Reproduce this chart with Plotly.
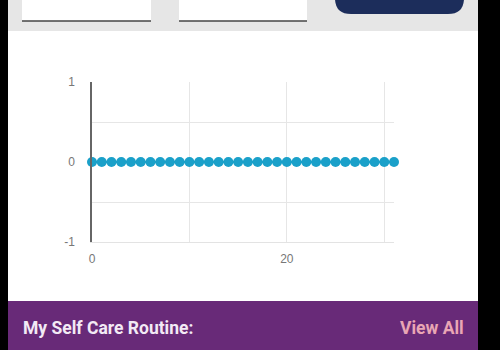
import plotly.graph_objects as go

days = list(range(0, 32))
values = [0] * 32
x_tickvals = [0, 20]
x_ticktext = ["0", "20"]
y_tickvals = [-1, 0, 1]
y_ticktext = ["-1", "0", "1"]
footer_title = "My Self Care Routine:"
footer_link = "View All"

W, H = 500, 350
L, R, T, B = 92, 394, 82, 242

def px(x):
    return (x - L) / (R - L)

def py(y):
    return (B - y) / (B - T)

def rect(x0, y0, x1, y1, color, line=None):
    return dict(type="rect", xref="paper", yref="paper",
                x0=px(x0), x1=px(x1), y0=py(y1), y1=py(y0),
                fillcolor=color, line=dict(width=0) if line is None else line,
                layer="below")

fig = go.Figure()
fig.add_trace(go.Scatter(
    x=days, y=values, mode="lines+markers",
    line=dict(color="#1aa0c9", width=2),
    marker=dict(color="#1aa0c9", size=10),
    hoverinfo="skip", showlegend=False, cliponaxis=False,
))

shapes = [
    rect(8, 0, 478, 31, "#e6e6e6"),
    rect(22, -5, 151, 21, "#ffffff"),
    rect(179, -5, 307, 21, "#ffffff"),
    dict(type="line", xref="paper", yref="paper", x0=px(22), x1=px(151), y0=py(21), y1=py(21),
         line=dict(color="#444444", width=1.5), layer="below"),
    dict(type="line", xref="paper", yref="paper", x0=px(179), x1=px(307), y0=py(21), y1=py(21),
         line=dict(color="#444444", width=1.5), layer="below"),
    rect(8, 301, 478, 350, "#682a78"),
    rect(0, 0, 8, 350, "#000000"),
    rect(478, 0, 500, 350, "#000000"),
]
# rounded navy button
bx0, bx1, by0, by1, r = 335, 464, -20, 14, 16
path = (f"M {px(bx0)} {py(by0)} L {px(bx0)} {py(by1 - r)} "
        f"Q {px(bx0)} {py(by1)} {px(bx0 + r)} {py(by1)} "
        f"L {px(bx1 - r)} {py(by1)} Q {px(bx1)} {py(by1)} {px(bx1)} {py(by1 - r)} "
        f"L {px(bx1)} {py(by0)} Z")
shapes.append(dict(type="path", xref="paper", yref="paper", path=path,
                   fillcolor="#1c2d5b", line=dict(width=0), layer="below"))

annotations = [
    dict(xref="paper", yref="paper", x=px(21), y=py(328), xanchor="left", yanchor="middle",
         text=footer_title, showarrow=False,
         font=dict(family="Roboto", size=17.5, color="#f3eaf5", weight="bold")),
    dict(xref="paper", yref="paper", x=px(466), y=py(328), xanchor="right", yanchor="middle",
         text=footer_link, showarrow=False,
         font=dict(family="Roboto", size=17.5, color="#e9a6b4", weight="bold")),
]

fig.update_layout(
    width=W, height=H,
    margin=dict(l=L, r=W - R, t=T, b=H - B),
    paper_bgcolor="#ffffff", plot_bgcolor="#ffffff",
    shapes=shapes, annotations=annotations,
    xaxis=dict(range=[0, 31], tickvals=x_tickvals, ticktext=x_ticktext,
               showgrid=True, gridcolor="#e6e6e6", gridwidth=1,
               minor=dict(dtick=10, showgrid=True, gridcolor="#e6e6e6", gridwidth=1),
               zeroline=False, showline=True, linecolor="#e3e3e3", linewidth=1,
               ticks="", ticklabelstandoff=6,
               tickfont=dict(family="Liberation Sans", size=12, color="#777777"), fixedrange=True),
    yaxis=dict(range=[-1, 1], tickvals=y_tickvals, ticktext=y_ticktext,
               showgrid=True, gridcolor="#e6e6e6", gridwidth=1,
               minor=dict(dtick=0.5, showgrid=True, gridcolor="#e6e6e6", gridwidth=1),
               zeroline=False, showline=True, linecolor="#666666", linewidth=1.5,
               ticks="", ticklabelstandoff=13,
               tickfont=dict(family="Liberation Sans", size=12, color="#777777"), fixedrange=True),
)

fig.write_html("out.html")
